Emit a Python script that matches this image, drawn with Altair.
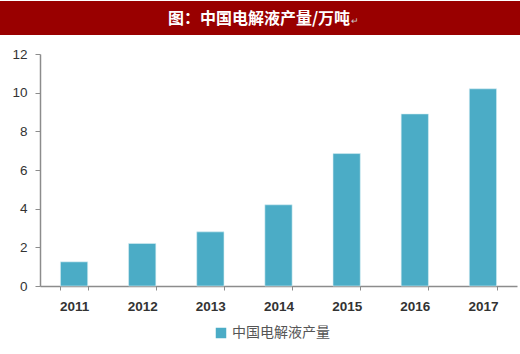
import altair as alt
import pandas as pd

years = ["2011", "2012", "2013", "2014", "2015", "2016", "2017"]
values = [1.25, 2.2, 2.8, 4.2, 6.85, 8.9, 10.2]
series = "中国电解液产量"
title_text = "图：中国电解液产量/万吨"

df = pd.DataFrame({"year": years, "value": values, "series": [series] * len(years)})

W, H = 477, 232
PL, PT = 40, 54

bars = alt.Chart(df).mark_bar(color="#4BACC6", stroke="#d8eef4", strokeWidth=0.6).encode(
    x=alt.X("year:N", sort=years,
            scale=alt.Scale(paddingInner=0.6, paddingOuter=0.3),
            axis=alt.Axis(title=None, labelAngle=0, tickBand="extent",
                          domainColor="#8c8c8c", tickColor="#8c8c8c", domainWidth=1.5,
                          tickSize=4, labelPadding=9, labelFont="Liberation Sans",
                          labelFontSize=13.5, labelFontWeight="bold", labelColor="#333333")),
    y=alt.Y("value:Q", scale=alt.Scale(domain=[0, 12]),
            axis=alt.Axis(title=None, values=[0, 2, 4, 6, 8, 10, 12], grid=False,
                          domainColor="#8c8c8c", tickColor="#8c8c8c", domainWidth=1.5,
                          tickSize=5, labelPadding=8, labelFont="Liberation Sans",
                          labelFontSize=13.5, labelColor="#333333")),
    color=alt.Color("series:N", scale=alt.Scale(range=["#4BACC6"]),
                    legend=alt.Legend(title=None, orient="none", legendX=174, legendY=40 + H,
                                      symbolType="square", symbolSize=110, symbolStrokeWidth=0,
                                      labelFont="Noto Sans CJK SC", labelFontSize=14,
                                      labelColor="#555555")),
)

banner = alt.Chart(df.head(1)).mark_rect(color="#990000").encode(
    x=alt.value(-PL), x2=alt.value(W + 3), y=alt.value(-PT + 1), y2=alt.value(-PT + 35)
)
title = alt.Chart(pd.DataFrame({"t": [title_text]})).mark_text(
    color="white", font="Noto Sans CJK SC", fontSize=16, fontWeight="bold", align="center",
    baseline="middle"
).encode(text="t:N", x=alt.value(259 - PL), y=alt.value(-PT + 18.5))
mark = alt.Chart(pd.DataFrame({"t": ["↵"]})).mark_text(
    color="#cccccc", fontSize=9, align="left", baseline="middle"
).encode(text="t:N", x=alt.value(351 - PL), y=alt.value(-PT + 21))

chart = alt.layer(banner, bars, title, mark).properties(
    width=W, height=H,
    padding={"left": PL, "top": PT, "right": 3, "bottom": 68},
    autosize=alt.AutoSizeParams(type="none"),
    background="white",
).configure_view(stroke=None)

chart.save("out.html", embed_options={"renderer": "svg", "actions": False})
